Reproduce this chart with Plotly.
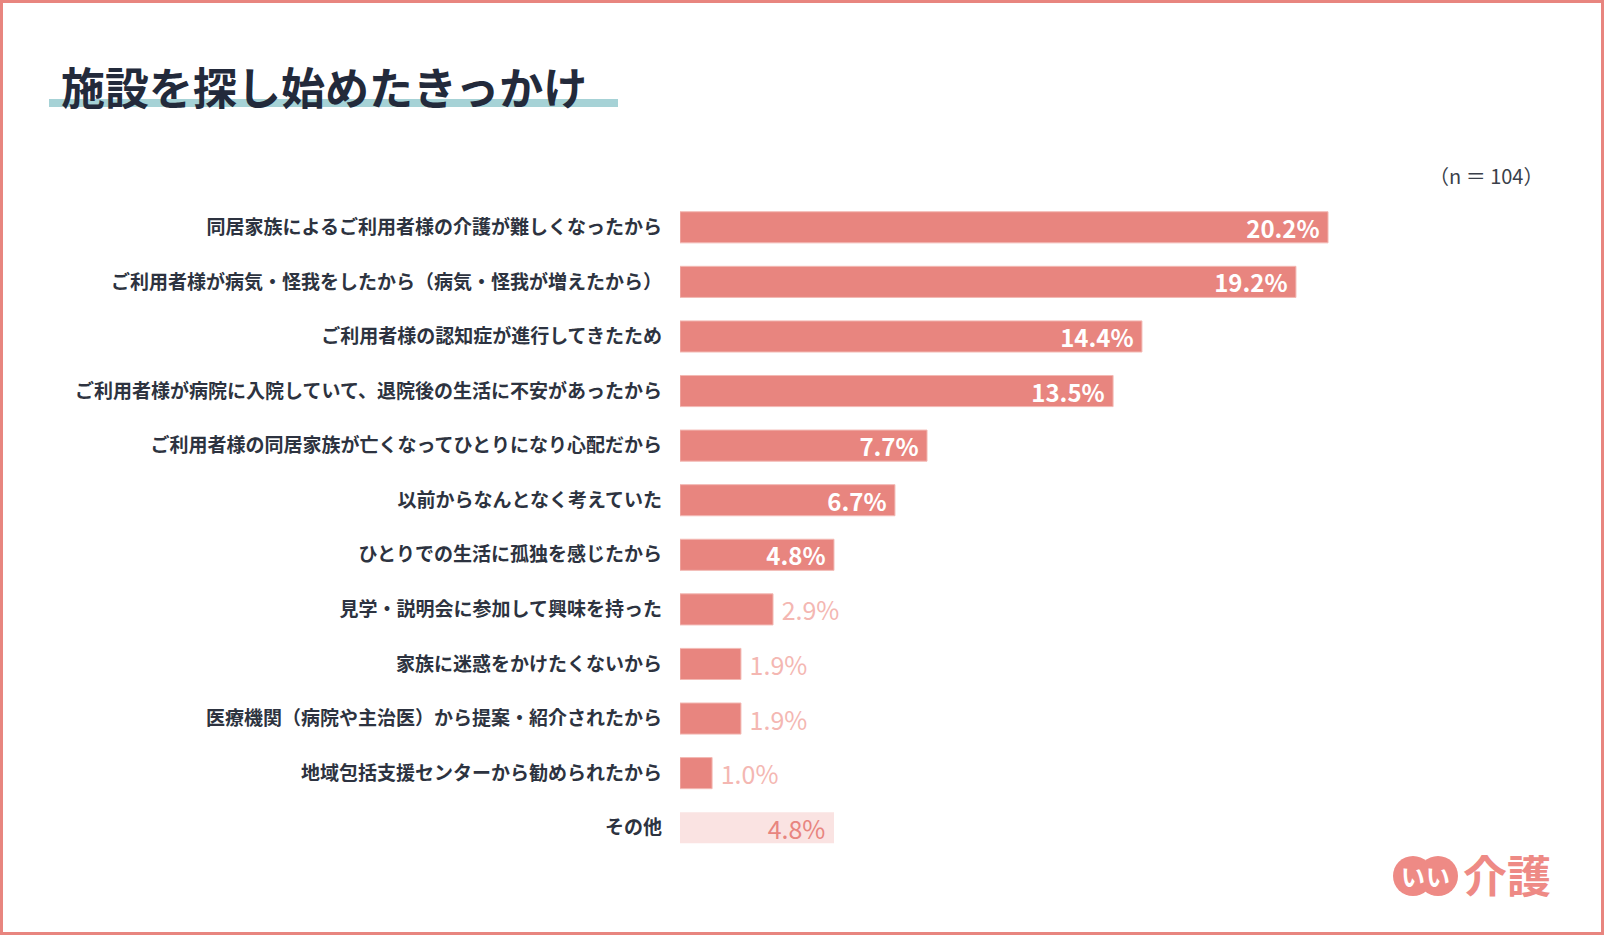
import plotly.graph_objects as go

# 施設を探し始めたきっかけ (n = 104)
categories = [
    "同居家族によるご利用者様の介護が難しくなったから",
    "ご利用者様が病気・怪我をしたから（病気・怪我が増えたから）",
    "ご利用者様の認知症が進行してきたため",
    "ご利用者様が病院に入院していて、退院後の生活に不安があったから",
    "ご利用者様の同居家族が亡くなってひとりになり心配だから",
    "以前からなんとなく考えていた",
    "ひとりでの生活に孤独を感じたから",
    "見学・説明会に参加して興味を持った",
    "家族に迷惑をかけたくないから",
    "医療機関（病院や主治医）から提案・紹介されたから",
    "地域包括支援センターから勧められたから",
    "その他",
]
values = [20.2, 19.2, 14.4, 13.5, 7.7, 6.7, 4.8, 2.9, 1.9, 1.9, 1.0, 4.8]
other_label = "その他"

W, H = 1604, 935
L, R, T, B = 680, 122, 200, 80
PW, PH = W - L - R, H - T - B

def px(x):
    return (x - L) / PW

def py(y):
    return (H - B - y) / PH

BAR = "#E8857F"
BAR_LIGHT = "#FAE3E2"
TXT_LIGHT = "#F4B7B2"
FONT = "Noto Sans CJK JP"

fig = go.Figure()

groups = {
    "inside": [(c, v) for c, v in zip(categories, values) if v >= 4 and c != other_label],
    "outside": [(c, v) for c, v in zip(categories, values) if v < 4 and c != other_label],
    "other": [(c, v) for c, v in zip(categories, values) if c == other_label],
}

g = groups["inside"]
fig.add_trace(go.Bar(
    y=[c for c, _ in g], x=[v for _, v in g], orientation="h",
    marker=dict(color=BAR, line=dict(color="#F3B9B4", width=1)),
    text=[f"<b>{v:.1f}%</b>\u00a0" for _, v in g],
    textposition="inside", insidetextanchor="end", constraintext="none",
    textfont=dict(family=FONT, size=24, color="white"),
    hoverinfo="skip",
))
g = groups["outside"]
fig.add_trace(go.Bar(
    y=[c for c, _ in g], x=[v for _, v in g], orientation="h",
    marker=dict(color=BAR, line=dict(color="#F3B9B4", width=1)),
    text=[f"\u00a0{v:.1f}%" for _, v in g],
    textposition="outside", cliponaxis=False, constraintext="none",
    textfont=dict(family=FONT, size=25, color=TXT_LIGHT),
    hoverinfo="skip",
))
g = groups["other"]
fig.add_trace(go.Bar(
    y=[c for c, _ in g], x=[v for _, v in g], orientation="h",
    marker=dict(color=BAR_LIGHT, line=dict(width=0)),
    text=[f"{v:.1f}%\u00a0" for _, v in g],
    textposition="inside", insidetextanchor="end", constraintext="none",
    textfont=dict(family=FONT, size=25, color=BAR),
    hoverinfo="skip",
))

fig.update_layout(
    width=W, height=H,
    margin=dict(l=L, r=R, t=T, b=B, autoexpand=False),
    paper_bgcolor="white", plot_bgcolor="white",
    barmode="overlay", bargap=0.43,
    showlegend=False,
    font=dict(family=FONT),
    xaxis=dict(range=[0, 25], visible=False, fixedrange=True),
    yaxis=dict(
        categoryorder="array", categoryarray=categories, autorange="reversed",
        showgrid=False, zeroline=False, showline=False, ticks="",
        ticklabelstandoff=17,
        tickfont=dict(family=FONT, size=19, color="#2d3340", weight="bold"),
        fixedrange=True,
    ),
    shapes=[
        # outer border
        dict(type="rect", xref="paper", yref="paper",
             x0=px(1.5), x1=px(W - 1.5), y0=py(H - 1.5), y1=py(1.5),
             line=dict(color=BAR, width=3), fillcolor="rgba(0,0,0,0)"),
        # title underline band
        dict(type="rect", xref="paper", yref="paper", layer="below",
             x0=px(49), x1=px(618), y0=py(107), y1=py(99),
             line=dict(width=0), fillcolor="#A6D2D6"),
        # logo circles
        dict(type="circle", xref="paper", yref="paper",
             x0=px(1393), x1=px(1433), y0=py(896), y1=py(856),
             line=dict(width=0), fillcolor="#EE8A85"),
        dict(type="circle", xref="paper", yref="paper",
             x0=px(1418), x1=px(1458), y0=py(896), y1=py(856),
             line=dict(width=0), fillcolor="#EE8A85"),
    ],
    annotations=[
        dict(text="<b>施設を探し始めたきっかけ</b>", xref="paper", yref="paper",
             x=px(59), y=py(86), xanchor="left", yanchor="middle", showarrow=False,
             font=dict(family=FONT, size=44, color="#232a3b")),
        dict(text="（n ＝ 104）", xref="paper", yref="paper",
             x=px(1545), y=py(175), xanchor="right", yanchor="middle", showarrow=False,
             font=dict(family=FONT, size=20, color="#3a3f4a")),
        dict(text="<b>い</b>", xref="paper", yref="paper",
             x=px(1413), y=py(876), xanchor="center", yanchor="middle", showarrow=False,
             font=dict(family=FONT, size=24, color="white")),
        dict(text="<b>い</b>", xref="paper", yref="paper",
             x=px(1438), y=py(876), xanchor="center", yanchor="middle", showarrow=False,
             font=dict(family=FONT, size=24, color="white")),
        dict(text="<b>介護</b>", xref="paper", yref="paper",
             x=px(1461), y=py(874), xanchor="left", yanchor="middle", showarrow=False,
             font=dict(family=FONT, size=44, color="#EE8A85")),
    ],
)

fig.write_html("out.html", config={"displayModeBar": False},
               post_script="document.body.style.margin='0';document.body.style.overflow='hidden';")
